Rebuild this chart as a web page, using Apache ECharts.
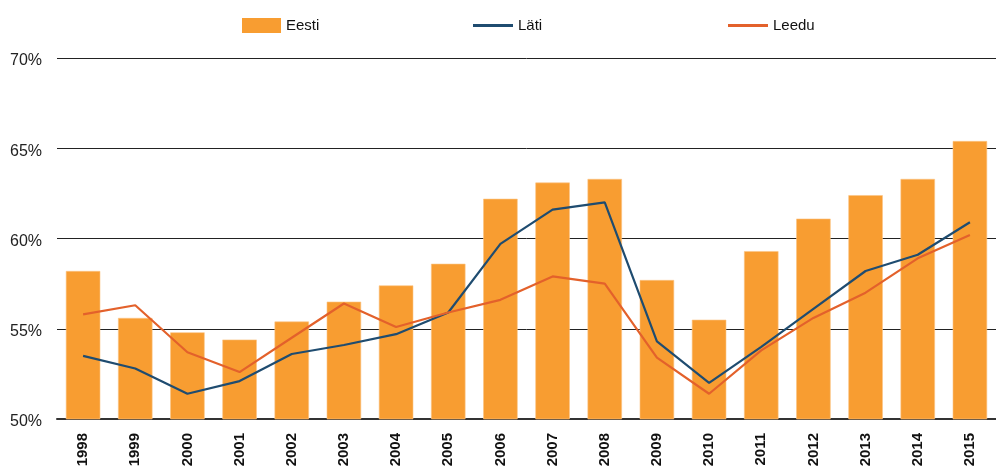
<!DOCTYPE html>
<html>
<head>
<meta charset="utf-8">
<script src="https://cdn.jsdelivr.net/npm/echarts@6/dist/echarts.min.js"></script>
<style>
  html, body { margin: 0; padding: 0; background: #fff; }
  #chart { width: 996px; height: 471px; }
</style>
</head>
<body>
<div id="chart"></div>
<script>
var years = ['1998', '1999', '2000', '2001', '2002', '2003', '2004', '2005', '2006',
  '2007', '2008', '2009', '2010', '2011', '2012', '2013', '2014', '2015'];
var eesti = [58.2, 55.6, 54.8, 54.4, 55.4, 56.5, 57.4, 58.6, 62.2,
  63.1, 63.3, 57.7, 55.5, 59.3, 61.1, 62.4, 63.3, 65.4];
var lati = [53.5, 52.8, 51.4, 52.1, 53.6, 54.1, 54.7, 55.9, 59.7,
  61.6, 62.0, 54.3, 52.0, 54.0, 56.1, 58.2, 59.1, 60.9];
var leedu = [55.8, 56.3, 53.7, 52.6, 54.5, 56.4, 55.1, 55.9, 56.6,
  57.9, 57.5, 53.4, 51.4, 53.8, 55.6, 57.0, 58.9, 60.2];

var font = 'Liberation Sans, Arial, Helvetica, sans-serif';
var legendText = { fontFamily: font, fontSize: 15, color: '#111' };

var chart = echarts.init(document.getElementById('chart'));
chart.setOption({
  animation: false,
  textStyle: { fontFamily: font },
  legend: [
    { data: ['Eesti'], left: 237, top: 13, itemWidth: 39, itemHeight: 15, icon: 'rect', itemGap: 5,
      itemStyle: { borderWidth: 0 }, textStyle: legendText },
    { data: ['Läti'], left: 468, top: 13, itemWidth: 40, itemHeight: 3, icon: 'rect', textStyle: legendText },
    { data: ['Leedu'], left: 723, top: 13, itemWidth: 40, itemHeight: 3, icon: 'rect', textStyle: legendText }
  ],
  grid: { left: 57, right: 0, top: 58, bottom: 52 },
  xAxis: {
    type: 'category',
    data: years,
    axisTick: { show: false },
    axisLine: { lineStyle: { color: '#333', width: 2 } },
    axisLabel: { rotate: 90, fontSize: 15, fontWeight: 'bold', color: '#111', margin: 14, fontFamily: font }
  },
  yAxis: {
    type: 'value',
    min: 50,
    max: 70,
    interval: 5,
    axisLine: { show: false },
    axisTick: { show: false },
    splitLine: { lineStyle: { color: '#222', width: 1 } },
    axisLabel: { formatter: '{value}%', fontSize: 16, color: '#222', margin: 15,
      verticalAlign: 'top', lineHeight: 6, fontFamily: font }
  },
  series: [
    {
      name: 'Eesti',
      type: 'bar',
      data: eesti,
      barWidth: '66%',
      itemStyle: { color: '#F89D31', borderColor: '#FBC584', borderWidth: 0.6 }
    },
    {
      name: 'Läti',
      type: 'line',
      data: lati,
      showSymbol: false,
      symbol: 'none',
      lineStyle: { color: '#1F4C70', width: 2.2 },
      itemStyle: { color: '#1F4C70' }
    },
    {
      name: 'Leedu',
      type: 'line',
      data: leedu,
      showSymbol: false,
      symbol: 'none',
      lineStyle: { color: '#E3612B', width: 2.2 },
      itemStyle: { color: '#E3612B' }
    }
  ]
});
</script>
</body>
</html>
